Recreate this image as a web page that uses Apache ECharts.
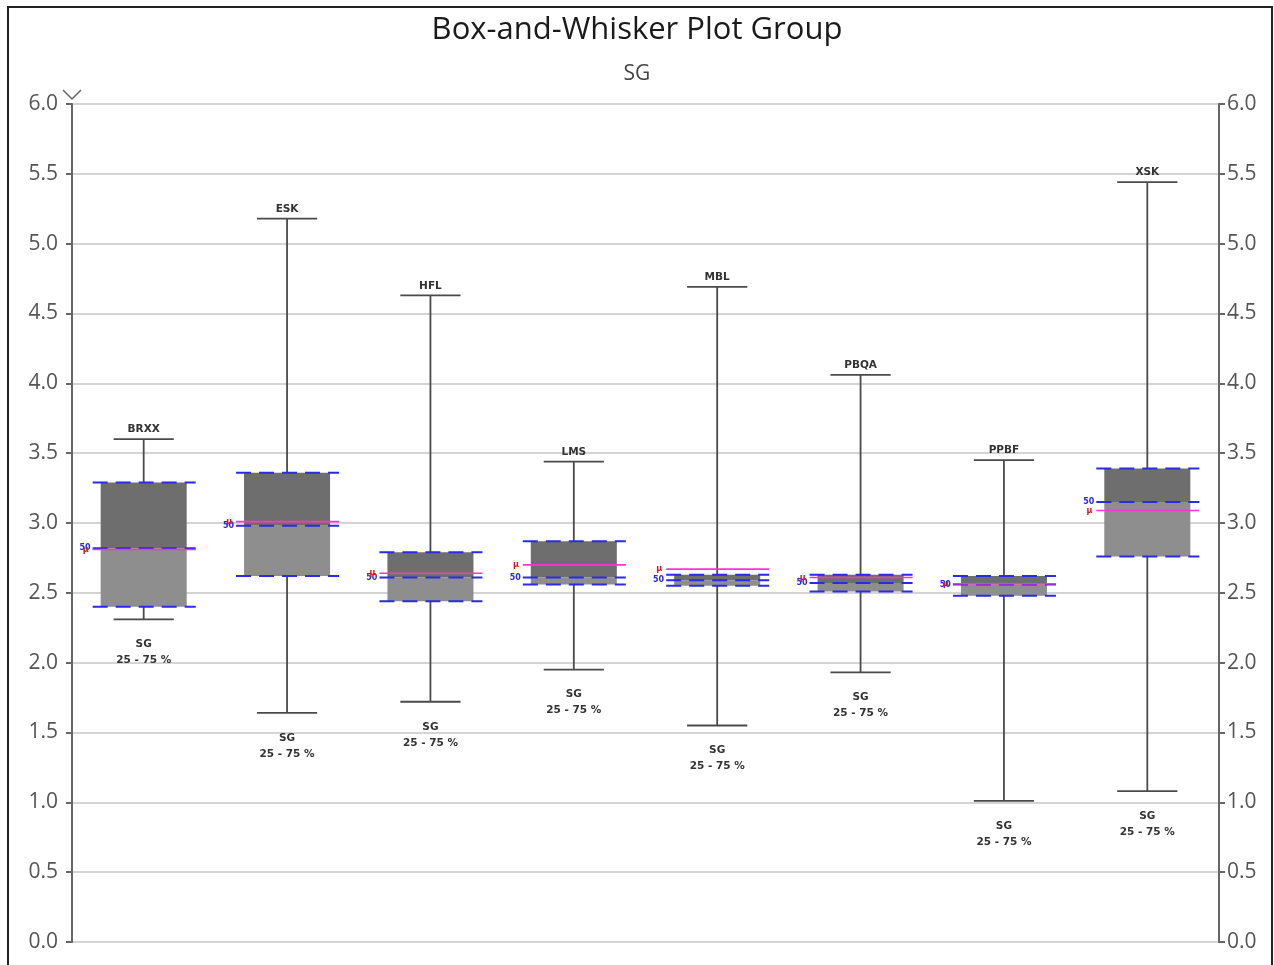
<!DOCTYPE html>
<html>
<head>
<meta charset="utf-8">
<title>Box-and-Whisker Plot Group</title>
<script src="https://cdn.jsdelivr.net/npm/echarts@6/dist/echarts.min.js"></script>
<style>
  html, body { margin: 0; padding: 0; background: #fff; }
  #chart { width: 1274px; height: 965px; }
</style>
</head>
<body>
<div id="chart"></div>
<script>
// Groups and their five-number summaries (plus mean) for SG
const categories = ['BRXX', 'ESK', 'HFL', 'LMS', 'MBL', 'PBQA', 'PPBF', 'XSK'];
const whiskerLow  = [2.31, 1.64, 1.72, 1.95, 1.55, 1.93, 1.01, 1.08];
const quartile1   = [2.40, 2.62, 2.44, 2.56, 2.55, 2.51, 2.48, 2.76];
const medians     = [2.82, 2.98, 2.61, 2.61, 2.59, 2.57, 2.56, 3.15];
const quartile3   = [3.29, 3.36, 2.79, 2.87, 2.63, 2.63, 2.62, 3.39];
const whiskerHigh = [3.60, 5.18, 4.63, 3.44, 4.69, 4.06, 3.45, 5.44];
const means       = [2.81, 3.01, 2.64, 2.70, 2.67, 2.61, 2.565, 3.09];
const yTicks      = ['0.0', '0.5', '1.0', '1.5', '2.0', '2.5', '3.0', '3.5', '4.0', '4.5', '5.0', '5.5', '6.0'];

const rows = categories.map((c, i) => [i, whiskerLow[i], quartile1[i], medians[i], quartile3[i], whiskerHigh[i], means[i]]);

const BLUE = '#2a2ae8';
const MEAN = '#ff33cc';
const WHISKER = '#4a4a4a';

function dashedLine(x1, x2, y) {
  return {
    type: 'line',
    shape: { x1: x1, y1: y, x2: x2, y2: y },
    style: { stroke: BLUE, lineWidth: 2, lineDash: [15, 8] },
    z2: 5
  };
}

function renderBox(params, api) {
  const i = api.value(0);
  const cx = api.coord([i, 0])[0];
  const band = api.size([1, 0])[0];
  const bw = band * 0.6;
  const capW = band * 0.42;
  const yLo = api.coord([i, api.value(1)])[1];
  const yQ1 = api.coord([i, api.value(2)])[1];
  const yMed = api.coord([i, api.value(3)])[1];
  const yQ3 = api.coord([i, api.value(4)])[1];
  const yHi = api.coord([i, api.value(5)])[1];
  const yMean = api.coord([i, api.value(6)])[1];
  const left = cx - bw / 2;
  const right = cx + bw / 2;
  const dL = left - 8;
  const dR = right + 9;
  const ws = { stroke: WHISKER, lineWidth: 1.8 };
  const lbl = { fontFamily: 'DejaVu Sans', fontSize: 10.5, fontWeight: 'bold', fill: '#333' };
  return {
    type: 'group',
    children: [
      { type: 'line', shape: { x1: cx, y1: yHi, x2: cx, y2: yLo }, style: ws, z2: 1 },
      { type: 'line', shape: { x1: cx - capW / 2, y1: yHi, x2: cx + capW / 2, y2: yHi }, style: ws, z2: 1 },
      { type: 'line', shape: { x1: cx - capW / 2, y1: yLo, x2: cx + capW / 2, y2: yLo }, style: ws, z2: 1 },
      { type: 'rect', shape: { x: left, y: yQ3, width: bw, height: yMed - yQ3 }, style: { fill: '#6e6e6e' }, z2: 2 },
      { type: 'rect', shape: { x: left, y: yMed, width: bw, height: yQ1 - yMed }, style: { fill: '#8e8e8e' }, z2: 2 },
      dashedLine(dL, dR, yQ3),
      dashedLine(dL, dR, yMed),
      dashedLine(dL, dR, yQ1),
      { type: 'line', shape: { x1: dL, y1: yMean, x2: dR, y2: yMean }, style: { stroke: MEAN, lineWidth: 1.6 }, z2: 6 },
      { type: 'text', x: dL - 2, y: yMed, style: { text: '50', fill: BLUE, fontSize: 8, fontWeight: 'bold', fontFamily: 'DejaVu Sans', align: 'right', verticalAlign: 'middle' }, z2: 7 },
      { type: 'text', x: dL - 4, y: yMean, style: { text: 'μ', fill: '#e01020', fontSize: 8, fontWeight: 'bold', fontFamily: 'DejaVu Sans', align: 'right', verticalAlign: 'middle' }, z2: 7 },
      { type: 'text', x: cx, y: yHi - 4, style: Object.assign({ text: categories[i], align: 'center', verticalAlign: 'bottom' }, lbl), z2: 7 },
      { type: 'text', x: cx, y: yLo + 17, style: Object.assign({ text: 'SG\n25 - 75 %', align: 'center', verticalAlign: 'top', lineHeight: 16 }, lbl), z2: 7 }
    ]
  };
}

const tickLabel = (v) => yTicks[Math.round(v / 0.5)] || '';

const chart = echarts.init(document.getElementById('chart'), null, { renderer: 'canvas' });
chart.setOption({
  backgroundColor: '#ffffff',
  animation: false,
  title: {
    text: 'Box-and-Whisker Plot Group',
    subtext: 'SG',
    left: 'center',
    top: 10,
    itemGap: 18,
    textStyle: { fontFamily: 'Open Sans', fontSize: 31, fontWeight: 'normal', color: '#1a1a1a' },
    subtextStyle: { fontFamily: 'Open Sans', fontSize: 21, color: '#444' }
  },
  grid: { left: 72, right: 55, top: 104, bottom: 23, containLabel: false },
  xAxis: {
    type: 'category',
    data: categories,
    boundaryGap: true,
    axisLine: { show: false },
    axisTick: { show: false },
    axisLabel: { show: false },
    splitLine: { show: false }
  },
  yAxis: [
    {
      type: 'value', min: 0, max: 6, interval: 0.5, position: 'left',
      axisLine: { show: true, lineStyle: { color: '#666', width: 2 } },
      axisTick: { show: true, length: 6, lineStyle: { color: '#666', width: 2 } },
      axisLabel: { formatter: tickLabel, fontFamily: 'Open Sans', fontSize: 21, color: '#555', margin: 14 },
      splitLine: { show: true, lineStyle: { color: '#d4d4d4', width: 2 } }
    },
    {
      type: 'value', min: 0, max: 6, interval: 0.5, position: 'right',
      axisLine: { show: true, lineStyle: { color: '#666', width: 2 } },
      axisTick: { show: true, length: 6, lineStyle: { color: '#666', width: 2 } },
      axisLabel: { formatter: tickLabel, fontFamily: 'Open Sans', fontSize: 21, color: '#555', margin: 8 },
      splitLine: { show: false }
    }
  ],
  graphic: [
    { type: 'rect', shape: { x: 8, y: 7, width: 1264, height: 980 }, style: { fill: null, stroke: '#222', lineWidth: 2 }, z: -10 },
    { type: 'polyline', shape: { points: [[63, 90], [72, 99], [81, 90]] }, style: { stroke: '#666', lineWidth: 1.5, fill: null } }
  ],
  series: [{
    type: 'custom',
    renderItem: renderBox,
    encode: { x: 0, y: [1, 2, 3, 4, 5, 6] },
    data: rows,
    clip: false
  }]
});
</script>
</body>
</html>
